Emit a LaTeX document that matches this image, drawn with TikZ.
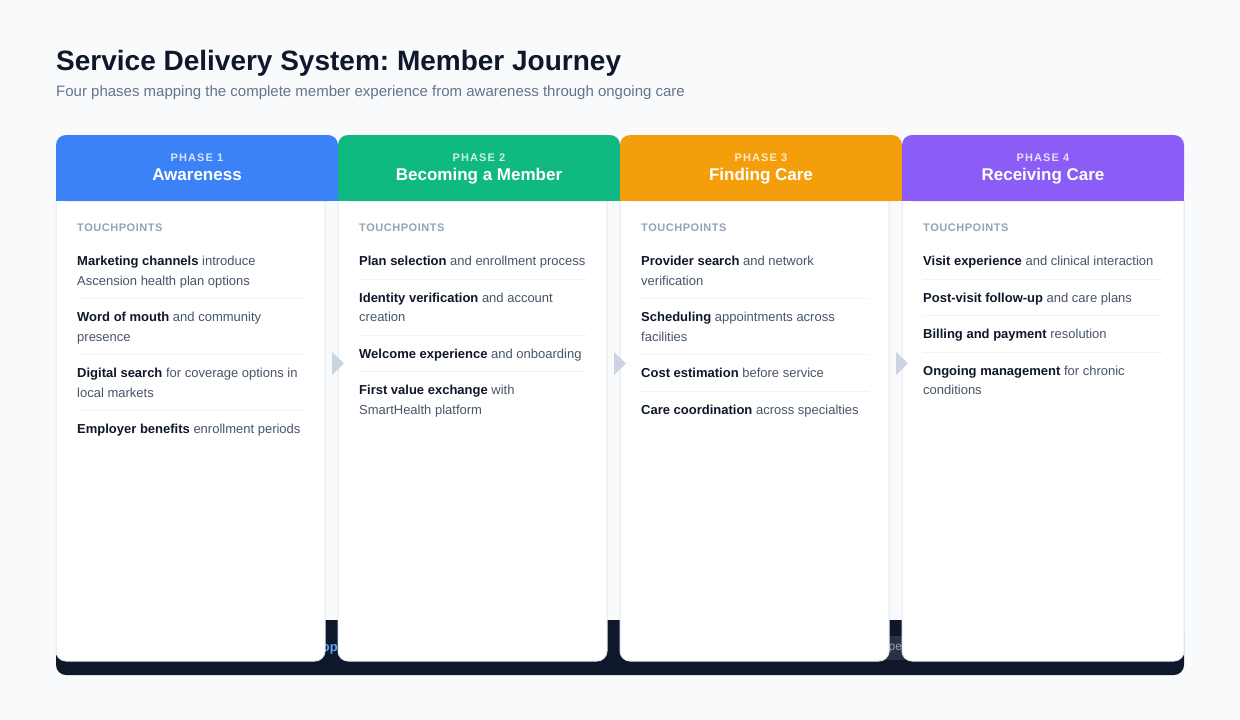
\documentclass[tikz,border=0pt]{standalone}
\usepackage{fontspec}
\setmainfont{Liberation Sans}
\newfontfamily\phasefont[LetterSpace=10]{Liberation Sans}
\newfontfamily\tpfont[LetterSpace=5]{Liberation Sans}
\definecolor{bgc}{HTML}{F8FAFC}
\definecolor{ink}{HTML}{0F172A}
\definecolor{subc}{HTML}{64748B}
\definecolor{txtc}{HTML}{475569}
\definecolor{tpc}{HTML}{94A3B8}
\definecolor{borderc}{HTML}{E2E8F0}
\definecolor{sepc}{HTML}{F1F5F9}
\definecolor{arrowc}{HTML}{CBD5E1}
\definecolor{darkc}{HTML}{0F172A}
\definecolor{badgec}{HTML}{283244}
\definecolor{linkc}{HTML}{60A5FA}
\definecolor{pblue}{HTML}{3B82F6}
\definecolor{pgreen}{HTML}{10B981}
\definecolor{pamber}{HTML}{F59E0B}
\definecolor{ppurple}{HTML}{8B5CF6}
\newcommand\kb[1]{{\color{ink}\bfseries #1}}
\frenchspacing
\begin{document}
\begin{tikzpicture}[x=1pt,y=-1pt,
  hdr/.style={fill=#1, rounded corners=10pt, minimum width=282pt, minimum height=66pt, inner sep=0pt, outer sep=0pt, anchor=north west},
  cardbody/.style={fill=white, draw=borderc, line width=1pt, rounded corners=10pt, inner sep=0pt, outer sep=0pt, anchor=north west, minimum height=470pt, minimum width=#1},
  phaselbl/.style={anchor=base, inner sep=0pt, text=white, text opacity=0.8, font=\phasefont\bfseries\fontsize{11}{13}\selectfont},
  phasettl/.style={anchor=base, inner sep=0pt, text=white, font=\bfseries\fontsize{17}{20}\selectfont},
  tplbl/.style={anchor=base west, inner sep=0pt, text=tpc, font=\tpfont\bfseries\fontsize{11}{13}\selectfont},
  itemtxt/.style={anchor=base west, inner sep=0pt, text=txtc, font=\fontsize{13}{19}\selectfont},
  sepline/.style={draw=sepc, line width=1pt},
  arrowtri/.style={fill=arrowc},
]
\useasboundingbox (0,0) rectangle (1240,720);
\fill[bgc] (0,0) rectangle (1240,720);

\node[anchor=base west, inner sep=0pt, text=ink, font=\bfseries\fontsize{28}{34}\selectfont] (title) at (56,70) {Service Delivery System: Member Journey};
\node[anchor=base west, inner sep=0pt, text=subc, font=\fontsize{15}{18}\selectfont] (subtitle) at (56,96) {Four phases mapping the complete member experience from awareness through ongoing care};

% dark footer bar behind cards
\node[fill=darkc, rounded corners=10pt, minimum width=1128pt, minimum height=55pt, inner sep=0pt, outer sep=0pt, anchor=north west] (bar) at (56,620) {};
\node[anchor=east, inner sep=0pt, text=linkc, font=\bfseries\fontsize{13}{15}\selectfont] (optxt) at (338,649) {op};
\node[fill=badgec, minimum width=34pt, minimum height=24pt, inner sep=0pt, outer sep=0pt, anchor=north west] (badge) at (878,636) {};
\node[anchor=west, inner sep=0pt, text=tpc, font=\fontsize{12}{14}\selectfont] (petxt) at (888.5,649) {pe};

% card bodies
\node[cardbody=269pt] (b1) at (56,191) {};
\node[cardbody=269pt] (b2) at (338,191) {};
\node[cardbody=269pt] (b3) at (620,191) {};
\node[cardbody=282pt] (b4) at (902,191) {};

% headers
\node[hdr=pblue] (h1) at (56,135) {};
\fill[pblue] (56,190) rectangle (338,201);
\node[hdr=pgreen] (h2) at (338,135) {};
\fill[pgreen] (338,190) rectangle (620,201);
\node[hdr=pamber] (h3) at (620,135) {};
\fill[pamber] (620,190) rectangle (902,201);
\node[hdr=ppurple] (h4) at (902,135) {};
\fill[ppurple] (902,190) rectangle (1184,201);

\node[phaselbl] (p1) at (197,161) {PHASE 1};
\node[phasettl] (t1) at (197,180) {Awareness};
\node[phaselbl] (p2) at (479,161) {PHASE 2};
\node[phasettl] (t2) at (479,180) {Becoming a Member};
\node[phaselbl] (p3) at (761,161) {PHASE 3};
\node[phasettl] (t3) at (761,180) {Finding Care};
\node[phaselbl] (p4) at (1043,161) {PHASE 4};
\node[phasettl] (t4) at (1043,180) {Receiving Care};

% arrows between phases
\fill[arrowtri] (332,352) -- (344,363.5) -- (332,375) -- cycle;
\fill[arrowtri] (614,352) -- (626,363.5) -- (614,375) -- cycle;
\fill[arrowtri] (896,352) -- (908,363.5) -- (896,375) -- cycle;

% touchpoint labels
\node[tplbl] (tp1) at (77,231) {TOUCHPOINTS};
\node[tplbl] (tp2) at (359,231) {TOUCHPOINTS};
\node[tplbl] (tp3) at (641,231) {TOUCHPOINTS};
\node[tplbl] (tp4) at (923,231) {TOUCHPOINTS};

% card 1
\node[itemtxt] (a1) at (77,265.5) {\kb{Marketing channels} introduce};
\node[itemtxt] (a1b) at (77,285.5) {Ascension health plan options};
\draw[sepline] (77,298) -- (305,298);
\node[itemtxt] (a2) at (77,321.5) {\kb{Word of mouth} and community};
\node[itemtxt] (a2b) at (77,341.5) {presence};
\draw[sepline] (77,354) -- (305,354);
\node[itemtxt] (a3) at (77,377.5) {\kb{Digital search} for coverage options in};
\node[itemtxt] (a3b) at (77,397.5) {local markets};
\draw[sepline] (77,410) -- (305,410);
\node[itemtxt] (a4) at (77,433.5) {\kb{Employer benefits} enrollment periods};

% card 2
\node[itemtxt] (m1) at (359,265.5) {\kb{Plan selection} and enrollment process};
\draw[sepline] (359,279) -- (587,279);
\node[itemtxt] (m2) at (359,302.5) {\kb{Identity verification} and account};
\node[itemtxt] (m2b) at (359,321.5) {creation};
\draw[sepline] (359,335) -- (587,335);
\node[itemtxt] (m3) at (359,358.5) {\kb{Welcome experience} and onboarding};
\draw[sepline] (359,371) -- (587,371);
\node[itemtxt] (m4) at (359,394.5) {\kb{First value exchange} with};
\node[itemtxt] (m4b) at (359,414.5) {SmartHealth platform};

% card 3
\node[itemtxt] (f1) at (641,265.5) {\kb{Provider search} and network};
\node[itemtxt] (f1b) at (641,285.5) {verification};
\draw[sepline] (641,298) -- (869,298);
\node[itemtxt] (f2) at (641,321.5) {\kb{Scheduling} appointments across};
\node[itemtxt] (f2b) at (641,341.5) {facilities};
\draw[sepline] (641,354) -- (869,354);
\node[itemtxt] (f3) at (641,377.5) {\kb{Cost estimation} before service};
\draw[sepline] (641,391) -- (869,391);
\node[itemtxt] (f4) at (641,414.5) {\kb{Care coordination} across specialties};

% card 4
\node[itemtxt] (r1) at (923,265.5) {\kb{Visit experience} and clinical interaction};
\draw[sepline] (923,279) -- (1163,279);
\node[itemtxt] (r2) at (923,302.5) {\kb{Post-visit follow-up} and care plans};
\draw[sepline] (923,315) -- (1163,315);
\node[itemtxt] (r3) at (923,338.5) {\kb{Billing and payment} resolution};
\draw[sepline] (923,352) -- (1163,352);
\node[itemtxt] (r4) at (923,375.5) {\kb{Ongoing management} for chronic};
\node[itemtxt] (r4b) at (923,394.5) {conditions};
\end{tikzpicture}
\end{document}
